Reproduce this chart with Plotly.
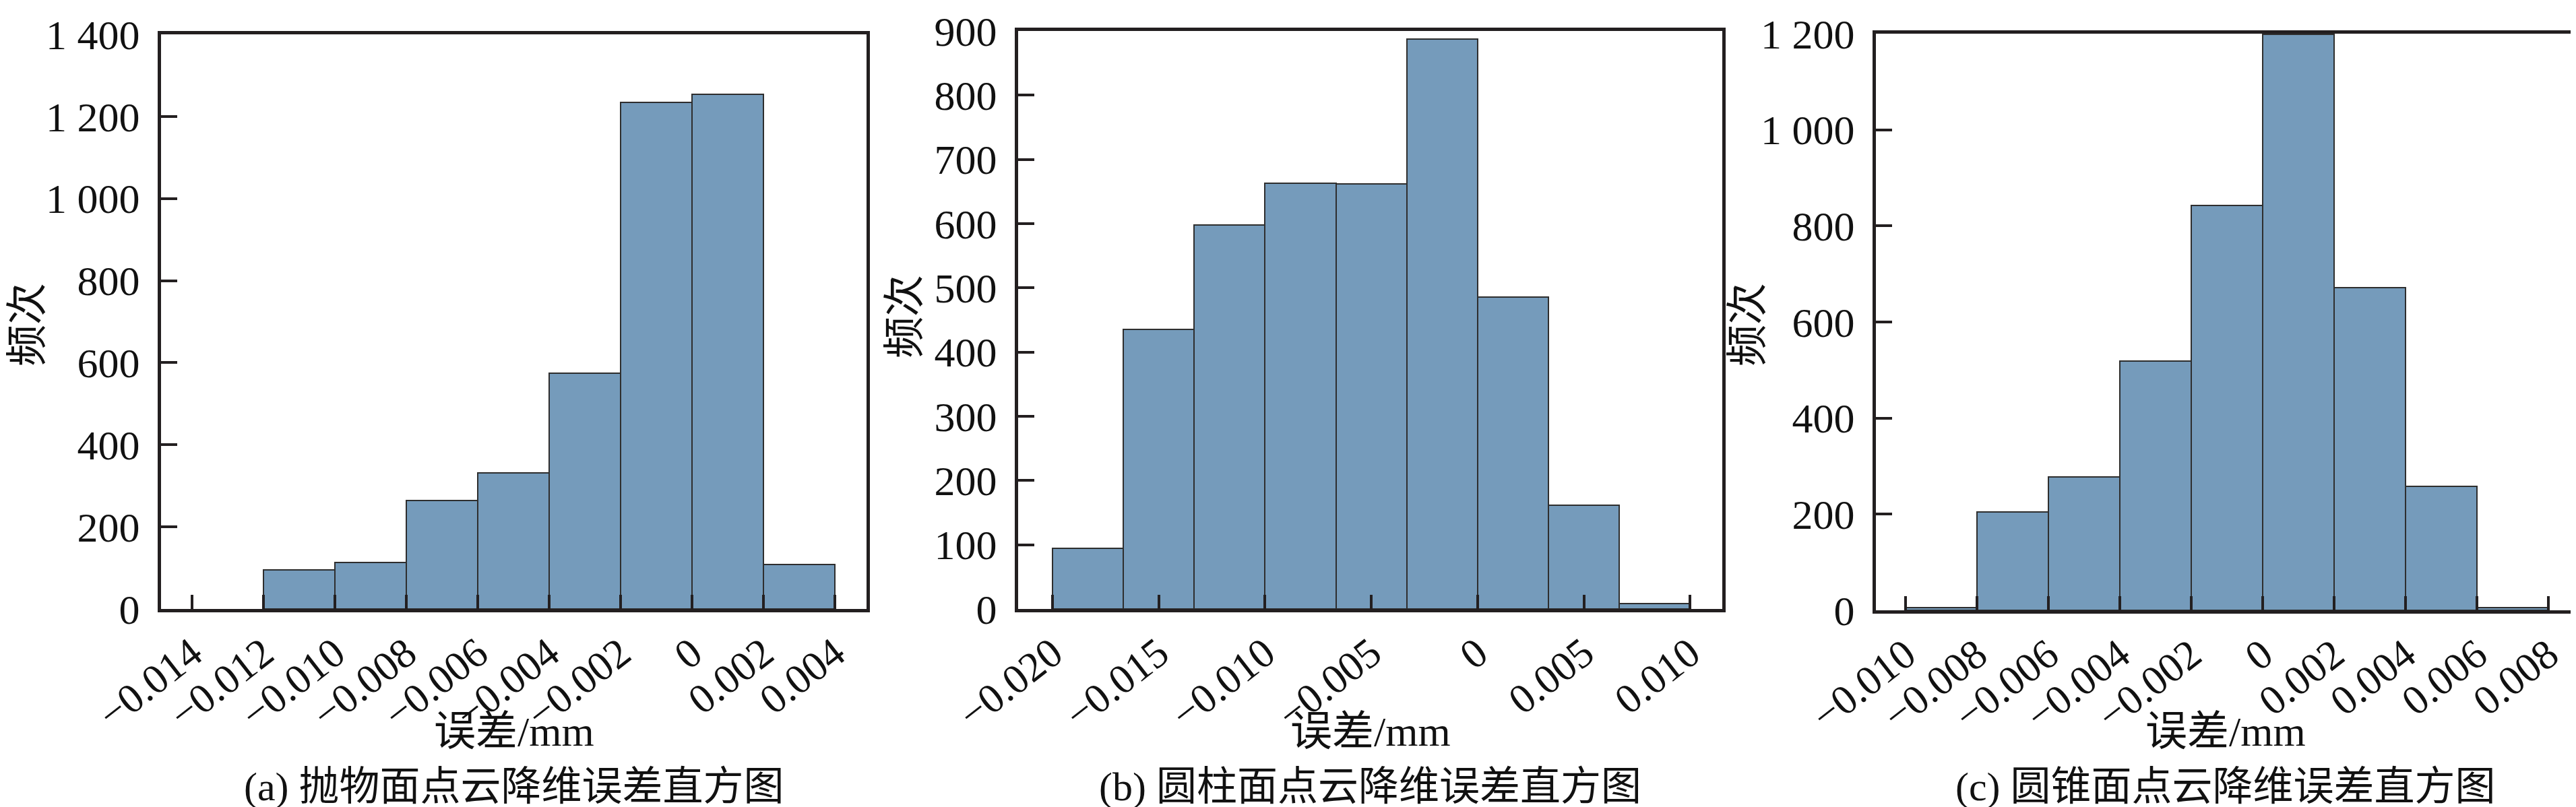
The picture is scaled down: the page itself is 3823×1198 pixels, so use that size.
"""
Point-cloud dimension-reduction error histograms (three panels)
"""

import plotly.graph_objects as go

# ---- data -------------------------------------------------------------
# (a) paraboloid: bin left edges (mm), bin width 0.002
a_bin_left = [-0.012, -0.010, -0.008, -0.006, -0.004, -0.002, 0.0, 0.002]
a_counts = [95, 114, 264, 332, 574, 1234, 1254, 109]
a_bin_width = 0.002

# (b) cylinder: 9 bins over -0.020 .. 0.010
b_bin_left = [-0.020, -0.016667, -0.013333, -0.010, -0.006667, -0.003333, 0.0, 0.003333, 0.006667]
b_counts = [94, 435, 598, 663, 662, 887, 486, 162, 8]
b_bin_width = 0.003333

# (c) cone: bin width 0.002
c_bin_left = [-0.010, -0.008, -0.006, -0.004, -0.002, 0.0, 0.002, 0.004, 0.006]
c_counts = [6, 205, 277, 519, 842, 1198, 672, 258, 6]
c_bin_width = 0.002

# tick values / labels
a_xticks = [-0.014, -0.012, -0.010, -0.008, -0.006, -0.004, -0.002, 0.0, 0.002, 0.004]
a_xlabels = ["−0.014", "−0.012", "−0.010", "−0.008", "−0.006", "−0.004", "−0.002", "0", "0.002", "0.004"]
a_yticks = [0, 200, 400, 600, 800, 1000, 1200, 1400]
a_ylabels = ["0", "200", "400", "600", "800", "1 000", "1 200", "1 400"]

b_xticks = [-0.020, -0.015, -0.010, -0.005, 0.0, 0.005, 0.010]
b_xlabels = ["−0.020", "−0.015", "−0.010", "−0.005", "0", "0.005", "0.010"]
b_yticks = [0, 100, 200, 300, 400, 500, 600, 700, 800, 900]
b_ylabels = ["0", "100", "200", "300", "400", "500", "600", "700", "800", "900"]

c_xticks = [-0.010, -0.008, -0.006, -0.004, -0.002, 0.0, 0.002, 0.004, 0.006, 0.008]
c_xlabels = ["−0.010", "−0.008", "−0.006", "−0.004", "−0.002", "0", "0.002", "0.004", "0.006", "0.008"]
c_yticks = [0, 200, 400, 600, 800, 1000, 1200]
c_ylabels = ["0", "200", "400", "600", "800", "1 000", "1 200"]

captions = ["(a) 抛物面点云降维误差直方图", "(b) 圆柱面点云降维误差直方图", "(c) 圆锥面点云降维误差直方图"]
x_title = "误差/mm"
y_title = "频次"

# ---- style --------------------------------------------------------------
W, H = 3823, 1198
FONT = "Liberation Serif, Times New Roman, Noto Sans CJK SC"
BAR_COLOR = "#759bbb"
EDGE_COLOR = "#2e2e2e"
FRAME_COLOR = "#231f20"
FONT_SIZE = 62

fig = go.Figure()

panels = [
    dict(left=a_bin_left, counts=a_counts, width=a_bin_width, ax=""),
    dict(left=b_bin_left, counts=b_counts, width=b_bin_width, ax="2"),
    dict(left=c_bin_left, counts=c_counts, width=c_bin_width, ax="3"),
]

for p in panels:
    fig.add_trace(go.Bar(
        x=p["left"],
        y=p["counts"],
        width=p["width"],
        offset=0,
        marker=dict(color=BAR_COLOR, line=dict(color=EDGE_COLOR, width=2)),
        xaxis="x" + p["ax"],
        yaxis="y" + p["ax"],
        showlegend=False,
        hovertemplate="%{x}<br>%{y}<extra></extra>",
    ))


def x_axis(domain, rng, tickvals, ticktext, anchor):
    return dict(
        domain=domain, range=rng, anchor=anchor, automargin=False,
        tickmode="array", tickvals=tickvals, ticktext=ticktext,
        tickangle=-38, ticklabeloverflow="allow",
        ticks="inside", ticklen=21, tickwidth=4, tickcolor=FRAME_COLOR,
        showline=True, linewidth=5, linecolor=FRAME_COLOR, mirror=True,
        showgrid=False, zeroline=False,
        tickfont=dict(family=FONT, size=FONT_SIZE, color="#111111"),
    )


def y_axis(domain, rng, tickvals, ticktext, anchor):
    return dict(
        domain=domain, range=rng, anchor=anchor, automargin=False,
        tickmode="array", tickvals=tickvals, ticktext=ticktext,
        ticks="inside", ticklen=24, tickwidth=4, tickcolor=FRAME_COLOR,
        ticklabelstandoff=14, ticklabeloverflow="allow",
        showline=True, linewidth=5, linecolor=FRAME_COLOR, mirror=True,
        showgrid=False, zeroline=False,
        tickfont=dict(family=FONT, size=FONT_SIZE, color="#111111"),
    )


y_dom_a = [1 - 896 / H, 1 - 43 / H]
y_dom_b = [1 - 896 / H, 1 - 38 / H]
y_dom_c = [1 - 898 / H, 1 - 42 / H]

fig.update_layout(
    width=W, height=H,
    margin=dict(l=0, r=0, t=0, b=0),
    paper_bgcolor="white", plot_bgcolor="white",
    bargap=0,
    xaxis=x_axis([231 / W, 1278 / W], [-0.014868, 0.004887], a_xticks, a_xlabels, "y"),
    yaxis=y_axis(y_dom_a, [0, 1400], a_yticks, a_ylabels, "x"),
    xaxis2=x_axis([1503 / W, 2548 / W], [-0.021617, 0.011515], b_xticks, b_xlabels, "y2"),
    yaxis2=y_axis(y_dom_b, [0, 900], b_yticks, b_ylabels, "x2"),
    xaxis3=x_axis([2776 / W, 3813 / W], [-0.010830, 0.008736], c_xticks, c_xlabels, "y3"),
    yaxis3=y_axis(y_dom_c, [0, 1200], c_yticks, c_ylabels, "x3"),
)

# axis titles and captions
centers_x = [(231 + 1278) / 2, (1503 + 2548) / 2, (2776 + 3813) / 2]
ytitle_pos = [(33, 474), (1335, 462), (2586, 474)]
for cx, cap, (yx, yy) in zip(centers_x, captions, ytitle_pos):
    fig.add_annotation(
        x=cx / W, y=1 - 1078 / H, xref="paper", yref="paper",
        text=x_title, showarrow=False, xanchor="center", yanchor="middle",
        font=dict(family=FONT, size=FONT_SIZE, color="#111111"),
    )
    fig.add_annotation(
        x=cx / W, y=1 - 1160 / H, xref="paper", yref="paper",
        text=cap, showarrow=False, xanchor="center", yanchor="middle",
        font=dict(family=FONT, size=60, color="#111111"),
    )
    fig.add_annotation(
        x=yx / W, y=1 - yy / H, xref="paper", yref="paper",
        text=y_title, showarrow=False, textangle=-90,
        xanchor="center", yanchor="middle",
        font=dict(family=FONT, size=FONT_SIZE, color="#111111"),
    )

fig.write_html("out.html")
